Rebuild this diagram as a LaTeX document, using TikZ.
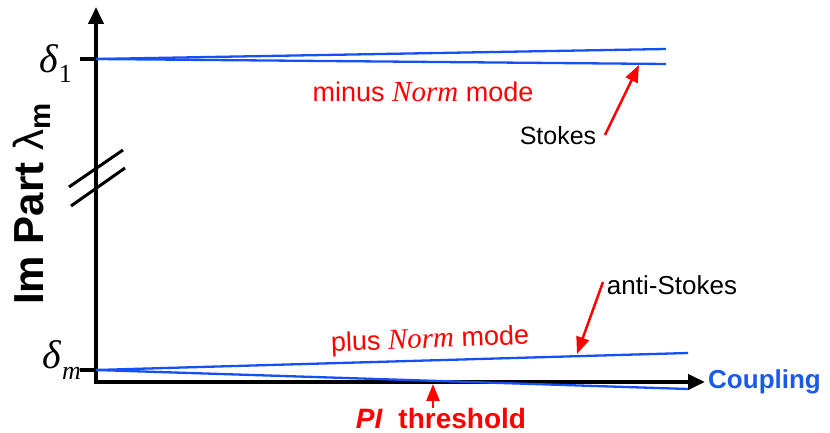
\documentclass[tikz,border=0pt]{standalone}
\usepackage{fontspec}
\setmainfont{Liberation Sans}
\newfontfamily\serif{Liberation Serif}
\usetikzlibrary{arrows.meta}
\definecolor{lineblue}{RGB}{20,80,245}
\definecolor{txtblue}{RGB}{25,90,235}
\definecolor{pired}{RGB}{255,0,0}
\tikzset{
  axis/.style={line width=4pt,-{Triangle[length=17pt,width=15pt]}},
  tick/.style={line width=4pt},
  branch/.style={draw=lineblue,line width=2.3pt},
  redarrow/.style={draw=pired,line width=2.5pt,-{Triangle[length=17pt,width=13pt]}},
  brk/.style={line width=3pt},
  lbl/.style={inner sep=0pt,font=\fontsize{25}{30}\selectfont},
}
\begin{document}
\begin{tikzpicture}[x=1pt,y=1pt]
\useasboundingbox (0,0) rectangle (830,433);
% axes
\coordinate (O) at (96,51);
\coordinate (ytop) at (96,426);
\coordinate (xend) at (705,51);
\draw[axis] (96,49) -- (ytop);
\draw[axis] (94,51) -- (xend);
% ticks
\coordinate (d1a) at (80,374);
\coordinate (d1b) at (96,374);
\coordinate (dma) at (80,63);
\coordinate (dmb) at (96,63);
\draw[tick] (d1a) -- (d1b);
\draw[tick] (dma) -- (dmb);
% axis break
\coordinate (b1a) at (69,246);
\coordinate (b1b) at (123,283);
\coordinate (b2a) at (71,227);
\coordinate (b2b) at (125,265);
\draw[brk] (b1a) -- (b1b);
\draw[brk] (b2a) -- (b2b);
% branches
\coordinate (t1) at (666,384);
\coordinate (t2) at (666,369);
\coordinate (u1) at (688,80);
\coordinate (u2) at (688,44);
\draw[branch] (d1b) -- (t1);
\draw[branch] (d1b) -- (t2);
\draw[branch] (dmb) -- (u1);
\draw[branch] (dmb) -- (u2);
% y label
\node[rotate=90,anchor=base west,inner sep=0pt,font=\fontsize{42}{46}\selectfont\bfseries] (ylab) at (43,128) {Im Part {\mdseries λ}\textsubscript{m}};
% delta labels
\node[anchor=base east,inner sep=0pt,font=\fontsize{40}{44}\selectfont\serif] (d1) at (72,360) {\textit{δ}\raisebox{-10pt}{\fontsize{26}{28}\selectfont 1}};
\node[anchor=base east,inner sep=0pt,font=\fontsize{40}{44}\selectfont\serif] (dm) at (81,64) {\textit{δ}\raisebox{-11pt}{\fontsize{26}{28}\selectfont\itshape m}};
% labels
\node[lbl,text=pired,font=\fontsize{27}{30}\selectfont] (minus) at (423,341) {minus {\serif\itshape\fontsize{29}{30}\selectfont Norm} mode};
\node[lbl,text=pired,rotate=2.2,font=\fontsize{27}{30}\selectfont] (plus) at (430,92) {plus {\serif\itshape\fontsize{29}{30}\selectfont Norm} mode};
\node[lbl] (stokes) at (558,297) {Stokes};
\node[lbl,font=\fontsize{26}{30}\selectfont] (astokes) at (672,148) {anti-Stokes};
\node[lbl,text=txtblue,font=\fontsize{26}{30}\selectfont\bfseries,anchor=west] (coup) at (708,51) {Coupling};
\node[lbl,text=pired,font=\fontsize{28}{30}\selectfont\bfseries] (pi) at (441,15) {\textit{PI}\ \ threshold};
% red arrows
\coordinate (stip) at (639,368);
\coordinate (atip) at (577,79);
\coordinate (ptip) at (433,49);
\draw[redarrow] (605,298) -- (stip);
\draw[redarrow] (603,151) -- (atip);
\draw[redarrow] (433,25) -- (ptip);
\end{tikzpicture}
\end{document}
